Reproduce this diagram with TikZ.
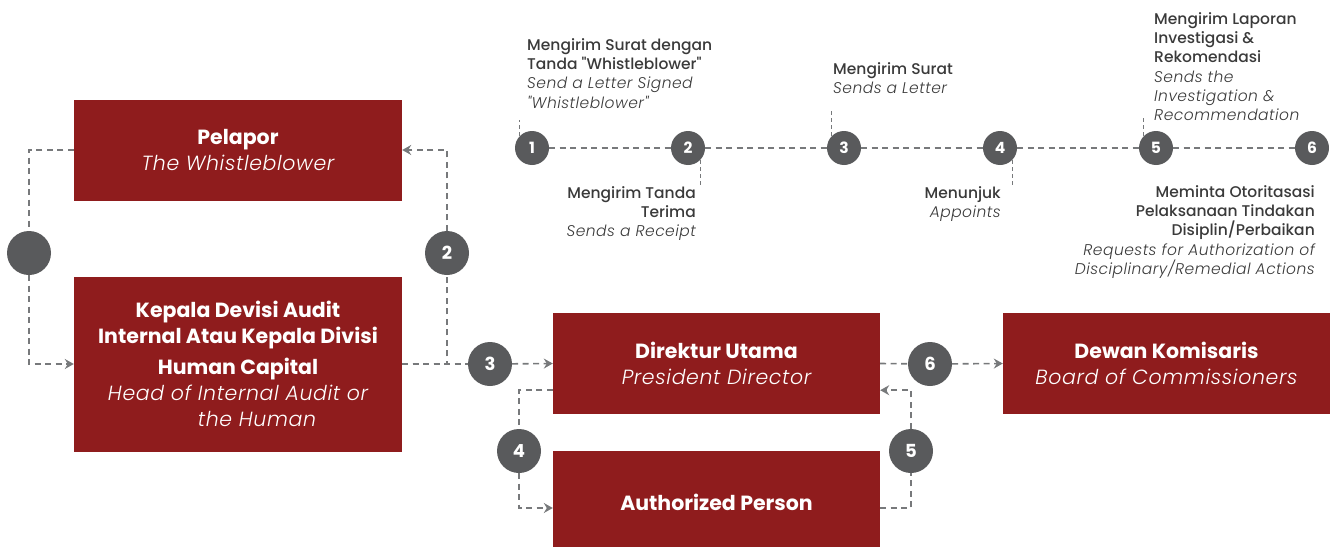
\documentclass[tikz,border=0pt]{standalone}
\usepackage{fontspec}
\setmainfont{Poppins}
\newfontfamily\medfont{Poppins Medium}
\newfontfamily\lightit{Poppins Light Italic}[LetterSpace = 3]
\usetikzlibrary{arrows.meta, calc}

\definecolor{boxred}{HTML}{8F1C1D}
\definecolor{dotgray}{HTML}{595A5C}
\definecolor{dashgray}{HTML}{77797B}
\definecolor{txtgray}{HTML}{3A3A3A}

\begin{document}
\begin{tikzpicture}[%
        x = 1pt, y = -1pt,
        > = {Stealth[length = 9pt, width = 10pt, inset = 3pt]},
        box/.style = {fill = boxred, text = white, inner sep = 0pt, align = center,
            minimum width = 328pt, font = \fontsize{20.5}{26}\selectfont},
        num/.style = {circle, fill = dotgray, text = white, inner sep = 0pt,
            minimum size = 44pt, font = \fontsize{18}{18}\selectfont\bfseries},
        tnum/.style = {num, minimum size = 34pt, font = \fontsize{15.5}{15.5}\selectfont\bfseries},
        flow/.style = {draw = dashgray, line width = 1.6pt, dash pattern = on 6pt off 4.5pt},
        tick/.style = {draw = dashgray, line width = 0.9pt, dash pattern = on 4pt off 3pt},
        note/.style = {inner sep = 0pt, text = txtgray, font = \fontsize{15.5}{19.3}\selectfont}
    ]

        \useasboundingbox (0, 0) rectangle (1330, 546);

        % Boxes for the parties.
        \node[box, minimum height = 101pt] (pel) at (238, 150)
            {{\bfseries Pelapor}\\{\lightit The Whistleblower}};
        \node[box, minimum height = 175pt] (kep) at (238, 364)
            {{\bfseries Kepala Devisi Audit}\\{\bfseries Internal Atau Kepala Divisi}\\[5pt]%
             {\bfseries Human Capital}\\{\lightit Head of Internal Audit or}\\%
             {\lightit\hspace*{38pt}the Human}};
        \node[box, minimum width = 327pt, minimum height = 101pt] (dir) at (716.5, 363.5)
            {{\bfseries Direktur Utama}\\{\lightit President Director}};
        \node[box, minimum width = 327pt, minimum height = 102pt] (auth) at (716.5, 502)
            {\bfseries Authorized Person};
        \node[box, minimum width = 327pt, minimum height = 101pt] (dew) at (1166.5, 363.5)
            {{\bfseries Dewan Komisaris}\\{\lightit Board of Commissioners}};

        % Numbered steps on the flow.
        \node[num] (c0) at (29, 253) {};
        \node[num] (c2) at (447, 253) {2};
        \node[num] (c3) at (490, 364) {3};
        \node[num] (c4) at (519, 451) {4};
        \node[num] (c5) at (911, 451) {5};
        \node[num] (c6) at (930, 364) {6};

        % Free ends of the side connectors.
        \coordinate (d4) at ($(dir.south west) + (0, -24)$);
        \coordinate (a4) at ($(auth.west) + (0, 6)$);
        \coordinate (a5) at ($(auth.east) + (0, 6)$);
        \coordinate (d5) at ($(dir.south east) + (0, -24)$);

        % Dashed connectors.
        \draw[flow] (pel.west) -| (c0);
        \draw[flow, ->] (c0) |- (kep.west);
        \draw[flow] (kep.east) -| (c2);
        \draw[flow, ->] (c2) |- (pel.east);
        \draw[flow] (kep.east) -- (c3);
        \draw[flow, ->] (c3) -- (dir.west);
        \draw[flow] (d4) -| (c4);
        \draw[flow, ->] (c4) |- (a4);
        \draw[flow] (a5) -| (c5);
        \draw[flow, ->] (c5) |- (d5);
        \draw[flow] (dir.east) -- (c6);
        \draw[flow, ->] (c6) -- (dew.west);

        % Timeline of the steps.
        \foreach \i in {1, ..., 6}
            \node[tnum] (s\i) at ({532 + 156 * (\i - 1)}, 148) {\i};
        \foreach \i [remember = \i as \last (initially 1)] in {2, ..., 6}
            \draw[flow] (s\last) -- (s\i);

        \draw[tick] (s1.135) -- ++(0, -16);
        \draw[tick] (s2.-45) -- ++(0, 25);
        \draw[tick] (s3.135) -- ++(0, -25);
        \draw[tick] (s4.-45) -- ++(0, 25);
        \draw[tick] (s5.135) -- ++(0, -20);

        % Labels of the timeline.
        \node[note, anchor = north west, align = left] (l1) at (527, 38)
            {{\medfont Mengirim Surat dengan}\\{\medfont Tanda "Whistleblower"}\\%
             {\lightit Send a Letter Signed}\\{\lightit "Whistleblower"}};
        \node[note, anchor = north east, align = right] (l2) at (696, 186)
            {{\medfont Mengirim Tanda}\\{\medfont Terima}\\{\lightit Sends a Receipt}};
        \node[note, anchor = north west, align = left] (l3) at (833, 62)
            {{\medfont Mengirim Surat}\\{\lightit Sends a Letter}};
        \node[note, anchor = north east, align = right] (l4) at (1001, 186)
            {{\medfont Menunjuk}\\{\lightit Appoints}};
        \node[note, anchor = north west, align = left] (l5) at (1154, 12)
            {{\medfont Mengirim Laporan}\\{\medfont Investigasi \&}\\{\medfont Rekomendasi}\\%
             {\lightit Sends the}\\{\lightit Investigation \&}\\{\lightit Recommendation}};
        \node[note, anchor = north east, align = right] (l6) at (1315, 185)
            {{\medfont Meminta Otoritasasi}\\{\medfont Pelaksanaan Tindakan}\\%
             {\medfont Disiplin/Perbaikan}\\{\lightit Requests for Authorization of}\\%
             {\lightit Disciplinary/Remedial Actions}};
    \end{tikzpicture}
\end{document}
